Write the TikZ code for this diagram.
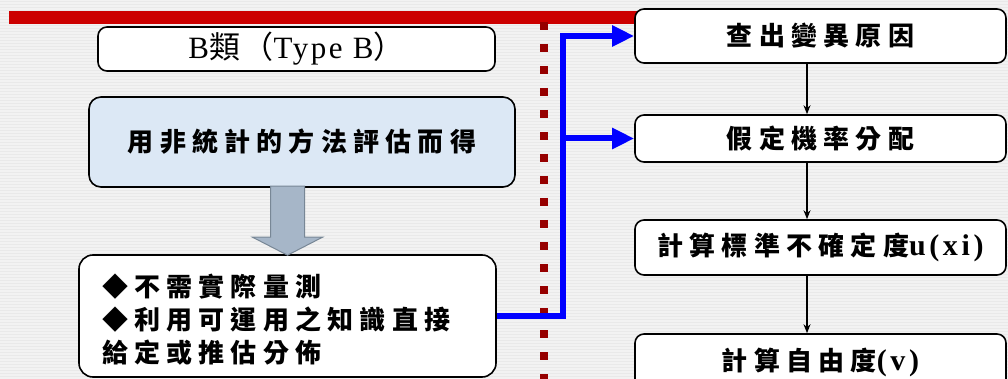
\documentclass[tikz,border=0pt]{standalone}
\usepackage{fontspec}
\setmainfont{Liberation Serif}
\newfontfamily\cjk{Noto Sans CJK TC}[LetterSpace=24]
\newfontfamily\cjkn{Noto Sans CJK TC}[LetterSpace=8]
\newfontfamily\lat{Liberation Serif}[LetterSpace=12]
\newfontfamily\latn{Liberation Serif}[LetterSpace=8]
\usetikzlibrary{arrows.meta,calc}
\definecolor{bgc}{RGB}{242,242,242}
\definecolor{stripec}{RGB}{233,233,233}
\definecolor{redbar}{RGB}{204,0,0}
\definecolor{dotred}{RGB}{150,0,0}
\definecolor{lightbluefill}{RGB}{220,232,245}
\definecolor{arrowfill}{RGB}{166,182,200}
\definecolor{arrowdraw}{RGB}{120,135,150}
\definecolor{linkblue}{RGB}{0,0,255}
\begin{document}
\begin{tikzpicture}[x=1pt,y=-1pt,
  box/.style={draw=black,line width=1.6pt,rounded corners=9pt,fill=white,inner sep=0pt},
  rbox/.style={box,minimum width=371pt},
  flow/.style={-{Stealth[length=9pt,width=7pt]},line width=1.3pt},
  bluelink/.style={line width=6pt,linkblue,-{Triangle[length=22pt,width=20pt]}},
  cjktxt/.style={font=\fontsize{26}{26}\selectfont\cjk\bfseries}
]
\useasboundingbox (0,0) rectangle (1008,379);
\clip (0,0) rectangle (1008,379);
\fill[bgc] (0,0) rectangle (1008,379);
\foreach \y in {1.5,4.5,...,378} \draw[stripec,line width=1pt] (0,\y) -- (1008,\y);

% red bar and dotted divider
\draw[redbar,line width=13pt] (9,17.5) -- (640,17.5);
\draw[dotred,line width=8pt,dash pattern=on 8pt off 14pt] (544,22) -- (544,379);

% left column
\node[box,minimum width=397pt,minimum height=44pt,font=\fontsize{31}{31}\selectfont\latn] (typeb) at (296.5,49)
  {\raisebox{-1pt}{B{\cjkn 類（}Type B{\cjkn ）}}};
\node[box,fill=lightbluefill,rounded corners=12pt,minimum width=426pt,minimum height=90pt,cjktxt] (nonstat) at (302,142)
  {\raisebox{-5pt}{用非統計的方法評估而得}};
\node[box,rounded corners=14pt,minimum width=417pt,minimum height=122pt,text width=371pt,align=left,inner xsep=23pt,
  font=\fontsize{26}{33}\selectfont\cjk\bfseries] (left) at (287.5,316)
  {\rule{0pt}{30pt}◆不需實際量測\\◆利用可運用之知識直接\\給定或推估分佈};

% gray block arrow
\filldraw[fill=arrowfill,draw=arrowdraw,line width=1pt]
  ($(left.north)+(-17,-68)$) -- ($(left.north)+(17,-68)$) -- ($(left.north)+(17,-17)$)
  -- ($(left.north)+(35,-17)$) -- ($(left.north)+(0,1)$) -- ($(left.north)+(-35,-17)$)
  -- ($(left.north)+(-17,-17)$) -- cycle;

% right column
\node[rbox,minimum height=54pt,cjktxt] (r1) at (820.5,36) {查出變異原因};
\node[rbox,minimum height=47pt,cjktxt] (r2) at (820.5,138.5) {假定機率分配};
\node[rbox,minimum height=55pt,cjktxt] (r3) at (820.5,247.5) {計算標準不確定度{\fontsize{30}{30}\selectfont\lat\bfseries u(xi)}};
\node[rbox,minimum height=56pt,cjktxt] (r4) at (820.5,362) {計算自由度{\fontsize{30}{30}\selectfont\lat\bfseries (v)}};

\coordinate (ax) at (807,0);
\draw[flow] (r1.south -| ax) -- (r2.north -| ax);
\draw[flow] (r2.south -| ax) -- (r3.north -| ax);
\draw[flow] (r3.south -| ax) -- (r4.north -| ax);

% blue connectors
\coordinate (jx) at (563,0);
\draw[bluelink] (left.east) -- (left.east -| jx) |- (r1.west);
\draw[bluelink] (r2.west -| jx) -- (r2.west);
\end{tikzpicture}
\end{document}
